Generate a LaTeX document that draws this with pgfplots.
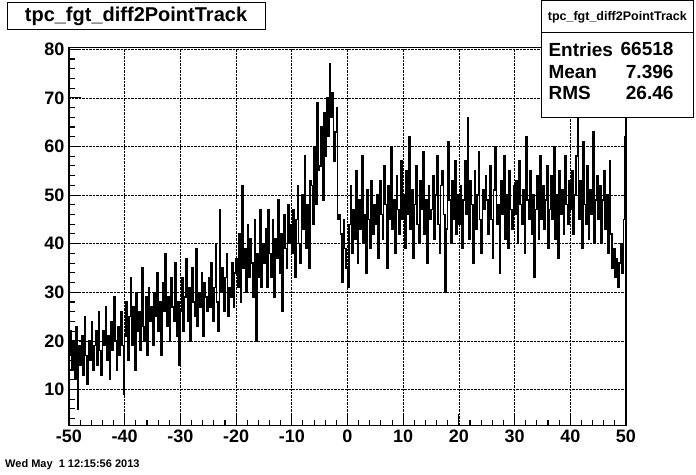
\documentclass[border=0pt]{standalone}
\usepackage{pgfplots}
\pgfplotsset{compat=1.18}
\usepackage{fontspec}
\setmainfont{Liberation Sans}
\begin{document}
\begin{tikzpicture}
\path[use as bounding box] (0,0) rectangle (696pt,474pt);
\begin{axis}[
  at={(69pt,48.3pt)}, anchor=south west, scale only axis,
  width=557pt, height=378.4pt,
  xmin=-50, xmax=50, ymin=2.55, ymax=80.4,
  xtick={-50,-40,...,50}, ytick={10,20,...,80},
  minor xtick={-48,-46,...,48}, minor ytick={4,6,...,80},
  grid=major, major grid style={densely dotted, black, line width=0.6pt},
  minor grid style={draw=none},
  axis line style={line width=1.5pt},
  tick style={black, line width=1.1pt},
  major tick length=12pt, minor tick length=6pt,
  xtick pos=bottom, ytick pos=left,
  tick label style={font=\fontsize{18}{18}\selectfont\bfseries},
  /pgf/number format/assume math mode=true,
  xticklabel style={yshift=-1pt},
  yticklabel style={xshift=-1pt},
]
\addplot[const plot, black, line width=1.4pt, mark=none]
  table[x expr=\coordindex*0.25-50, y index=0, row sep=\\] {
y\\
17\\22\\14\\20\\12\\23\\6\\19\\15\\21\\13\\25\\17\\11\\20\\16\\24\\14\\19\\22\\
15\\26\\18\\13\\22\\19\\27\\16\\21\\12\\24\\18\\29\\20\\14\\23\\17\\26\\19\\9\\
21\\28\\16\\25\\33\\19\\27\\14\\30\\22\\26\\18\\35\\23\\20\\29\\17\\31\\24\\27\\
19\\30\\25\\34\\22\\28\\17\\32\\26\\38\\23\\29\\20\\33\\27\\24\\36\\21\\28\\15\\
26\\33\\22\\29\\37\\24\\31\\20\\35\\28\\25\\39\\23\\30\\27\\34\\21\\32\\29\\26\\
33\\27\\36\\24\\31\\40\\28\\22\\47\\30\\35\\26\\33\\38\\25\\31\\29\\36\\27\\34\\
37\\31\\42\\28\\52\\35\\39\\30\\44\\33\\41\\36\\29\\45\\20\\38\\33\\47\\31\\40\\
36\\43\\31\\47\\38\\33\\45\\29\\41\\37\\49\\34\\42\\26\\46\\39\\35\\48\\40\\44\\
38\\47\\33\\45\\52\\40\\36\\50\\43\\58\\39\\48\\35\\53\\52\\44\\60\\48\\69\\55\\
56\\64\\49\\67\\58\\70\\62\\77\\66\\71\\57\\63\\68\\45\\46\\42\\32\\45\\39\\35\\
31\\44\\52\\38\\47\\41\\55\\36\\49\\43\\58\\40\\46\\34\\51\\45\\39\\53\\42\\48\\
44\\50\\37\\53\\46\\41\\56\\48\\35\\52\\45\\60\\43\\49\\38\\54\\47\\42\\57\\45\\
50\\39\\55\\46\\62\\43\\51\\37\\48\\56\\44\\40\\53\\47\\59\\42\\49\\36\\52\\45\\
47\\54\\41\\50\\58\\44\\38\\52\\55\\46\\30\\43\\61\\49\\40\\53\\45\\57\\42\\50\\
44\\52\\39\\49\\57\\46\\66\\41\\53\\48\\36\\55\\43\\50\\59\\45\\38\\51\\47\\54\\
49\\42\\56\\45\\37\\51\\60\\44\\48\\34\\53\\46\\58\\41\\50\\39\\55\\47\\43\\52\\
46\\53\\40\\57\\48\\44\\51\\38\\62\\49\\45\\55\\42\\50\\33\\47\\54\\41\\58\\45\\
52\\43\\49\\56\\39\\47\\54\\45\\60\\41\\50\\37\\55\\46\\51\\42\\58\\48\\44\\53\\
47\\55\\42\\50\\58\\67\\45\\53\\39\\61\\48\\44\\56\\41\\51\\46\\63\\40\\49\\54\\
45\\52\\40\\49\\55\\43\\50\\38\\57\\42\\35\\39\\33\\37\\31\\36\\40\\34\\45\\62\\
62\\
};
\end{axis}
% title box
\node[draw, line width=1pt, fill=white, minimum width=258pt, minimum height=26.3pt, inner sep=0pt]
  at (136pt,458.1pt) {\fontsize{20}{22}\selectfont\bfseries tpc\_fgt\_diff2PointTrack};
% stats box
\draw[line width=1pt, fill=white] (541.7pt,473.3pt) rectangle (693pt,356pt);
\draw[line width=1pt] (541.7pt,441.7pt) -- (693pt,441.7pt);
\node at (617.3pt,457pt) {\fontsize{12.5}{14}\selectfont\bfseries tpc\_fgt\_diff2PointTrack};
\node[anchor=west] at (545pt,424.7pt) {\fontsize{19}{20}\selectfont\bfseries Entries};
\node[anchor=west] at (545pt,402.3pt) {\fontsize{19}{20}\selectfont\bfseries Mean};
\node[anchor=west] at (545pt,380.7pt) {\fontsize{19}{20}\selectfont\bfseries RMS};
\node[anchor=east] at (677pt,424.7pt) {\fontsize{19}{20}\selectfont\bfseries 66518};
\node[anchor=east] at (677pt,402.3pt) {\fontsize{19}{20}\selectfont\bfseries 7.396};
\node[anchor=east] at (677pt,380.7pt) {\fontsize{19}{20}\selectfont\bfseries 26.46};
% date
\node[anchor=west, inner sep=0pt] at (5pt,9pt) {\fontsize{11}{12}\selectfont\bfseries Wed May\ \ 1 12:15:56 2013};
\end{tikzpicture}
\end{document}
